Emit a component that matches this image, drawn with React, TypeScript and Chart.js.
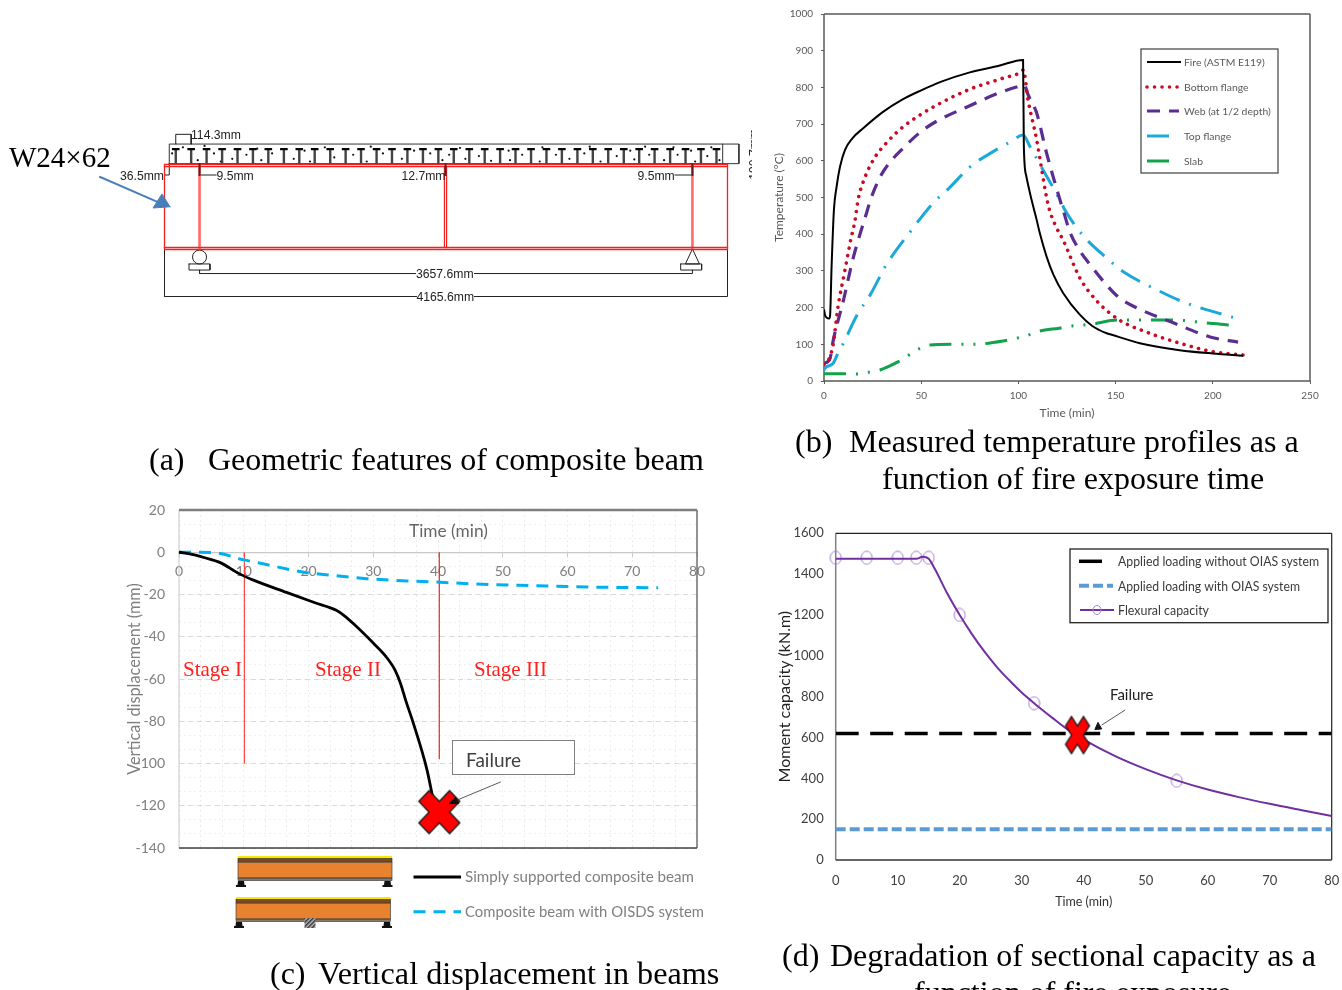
import React, { useEffect, useRef } from "react";
import { Chart, registerables } from "chart.js";

Chart.register(...registerables);
Chart.defaults.font.family = "Lato";
Chart.defaults.animation = false as any;

type Pt = number[];

/* ---------- (a) geometry, in millimetres ---------- */
const studPositions = [87, 201, 315, 430, 544, 658, 772, 887, 1001, 1115, 1230, 1344, 1458, 1573, 1687, 1801, 1916, 2030, 2144, 2259, 2373, 2487, 2601, 2716, 2830, 2944, 3059, 3173, 3287, 3402, 3516, 3630, 3745, 3859, 3973, 4088];
const speckles: Pt[] = [[60, 700], [140, 745], [250, 650], [300, 755], [370, 700], [420, 640], [505, 660], [610, 690], [690, 735], [720, 650], [800, 700], [960, 660], [1040, 720], [1080, 640], [1190, 745], [1260, 670], [1400, 690], [1500, 640], [1530, 750], [1620, 700], [1760, 660], [1850, 720], [1970, 700], [2060, 650], [2110, 690], [2190, 740], [2230, 660], [2330, 680], [2420, 645], [2550, 720], [2560, 650], [2650, 690], [2780, 640], [2800, 745], [2900, 690], [3000, 660], [3110, 700], [3150, 750], [3230, 640], [3350, 680], [3450, 720], [3480, 655], [3560, 750], [3590, 690], [3700, 650], [3770, 745], [3800, 690], [3900, 720], [3930, 640], [4020, 680], [4050, 745], [4110, 650]];
const slabLines: Pt[][] = [[[39, 624], [39, 769], [4254, 769], [4254, 624], [39, 624]], [[4134, 624], [4134, 769]]];
const dimensionLines: Pt[][] = [[[3.7, -11], [3.7, -359], [4169.5, -359], [4169.5, -11]], [[263, -163], [263, -189], [3910, -189], [3910, -163]], [[185, -118], [340, -118], [340, -163], [185, -163], [185, -118]], [[3823, -118], [3978, -118], [3978, -163], [3823, -163], [3823, -118]], [[3910, -7], [3858, -118], [3962, -118], [3910, -7]], [[87, 769], [87, 841], [201, 841], [201, 769]], [[0, 540], [39, 540], [39, 624]], [[263, 540], [385, 540]], [[3910, 540], [3781, 540]]];
const thickLeaders: Pt[][] = [[[263, 619], [263, 540]], [[2083, 619], [2083, 540]], [[3910, 619], [3910, 540]]];
const beamOutline: Pt[] = [[3.7, 618], [4169.5, 618], [4169.5, -11], [3.7, -11], [3.7, 618]];
const flangeLines: Pt[][] = [[[3.7, 603], [4169.5, 603]], [[3.7, 3.7], [4169.5, 3.7]]];
const midStiffener: Pt[][] = [[[2075, 603], [2075, 3.7]], [[2091, 603], [2091, 3.7]]];
const webStiffeners: Pt[][] = [[[263, 603], [263, 3.7]], [[3910, 603], [3910, 3.7]]];
const rollerCentre: Pt[] = [[263, -67]];
const beamArrow: Pt[] = [[-473, 525], [-30, 333]];
const beamArrowHead: Pt[] = [[44, 305], [-81, 296], [-15, 400], [44, 305]];

/* ---------- (b) temperature profiles ---------- */
const fireT = [0, 0.5, 1.5, 2.5, 3.1, 3.9, 5.1, 6.5, 8.2, 10.8, 14.7, 20, 30, 40, 50, 60, 75, 90, 102.4, 102.8, 104, 106.8, 109.4, 111, 114.5, 118, 123, 131.7, 138, 145.4, 148, 162.5, 183, 200, 215.6];
const fireTemp = [195, 180, 172, 170, 177, 311, 466, 530, 583, 630, 662, 688, 732, 766, 792, 815, 841, 859, 875, 640, 560, 493, 439, 403, 339, 290, 240, 180, 150, 130, 126, 103, 84, 75, 69];
const flangeT = [0, 3, 4.8, 7.2, 10.8, 13.4, 16, 17.5, 20, 25.3, 32.3, 40.8, 50, 58, 75, 92, 101.6, 102.5, 105, 109.4, 114.5, 116, 119.4, 123, 131.7, 140, 152, 166, 183, 200, 215.6];
const flangeTemp = [45, 65, 103, 202, 302, 376, 439, 493, 540, 602, 650, 693, 727, 752, 795, 825, 843, 848, 765, 657, 500, 466, 420, 384, 280, 220, 166, 133, 103, 80, 71];
const webT = [0, 3, 4.8, 10, 15, 22, 24, 28.8, 33, 40.8, 50, 58, 75, 90, 99, 103, 105, 109.4, 114.5, 121.4, 123, 126.5, 131, 137, 144, 151.4, 161, 180, 198.6, 213];
const webTemp = [48, 60, 112, 220, 335, 460, 495, 555, 590, 635, 680, 708, 750, 785, 801, 806, 780, 730, 621, 493, 466, 406, 360, 316, 270, 229, 199, 158, 120, 106];
const topT = [0, 0.5, 4.8, 7.2, 10, 17, 23.7, 32, 45, 56, 65, 75, 87, 96, 102.4, 106, 112.7, 121.4, 124, 133, 145.4, 155, 169.5, 185, 206, 212.6];
const topTemp = [30, 35, 49, 76, 103, 180, 234, 316, 411, 484, 529, 583, 625, 652, 670, 638, 575, 493, 465, 398, 335, 294, 253, 215, 180, 170];
const slabT = [0, 11, 17, 22.8, 28.8, 38, 43, 48.5, 54.5, 65, 76.7, 92, 105, 111, 121, 127.6, 138, 150.6, 168, 180, 197, 207, 213];
const slabTemp = [20, 20, 19, 24, 30, 52, 68, 87, 98, 100, 100, 109, 125, 136, 144, 150, 155, 166, 166, 166, 158, 153, 147];

/* ---------- (c) vertical displacement ---------- */
const simpleT = [0, 2, 4, 6.3, 9.2, 11.5, 16.6, 21, 24.3, 25.5, 27, 30, 32, 33.4, 34.2, 35, 36.2, 38.3, 39.5];
const simpleDisp = [0, -1, -2.6, -4.8, -10, -13.2, -19, -23.9, -27.5, -30, -34, -43, -49.5, -56, -62, -70, -81, -103, -121];
const oisdsT = [0, 5.3, 9.9, 13.5, 19.2, 23.8, 29, 36.2, 40.3, 48, 54.7, 64, 74];
const oisdsDisp = [0, -0.2, -3.5, -5.8, -9.4, -11, -12.5, -13.7, -14.2, -15.3, -15.8, -16.5, -16.8];
const stageOneLine: Pt[] = [[10.1, 0], [10.1, -100]];
const stageTwoLine: Pt[] = [[40.2, 0], [40.2, -98]];
const failureC: Pt[] = [[40.2, -123]];
const failureArrowC: Pt[] = [[49.7, -108.7], [43.2, -117]];
const failureHeadC: Pt[] = [[41.7, -119], [42.7, -116], [43.2, -119], [41.7, -119]];

/* ---------- (d) sectional capacity ---------- */
const capacityT = [0, 10, 13, 14, 15, 16, 18, 20, 22, 24, 26, 28, 30, 32, 35, 37.5, 40, 45, 50, 55, 60, 65, 70, 75, 80];
const capacity = [1475, 1475, 1475, 1485, 1475, 1425, 1305, 1200, 1105, 1020, 945, 880, 820, 768, 695, 637, 590, 510, 445, 390, 345, 308, 275, 245, 216];
const markerT = [0, 5, 10, 13, 15, 20, 32, 55];
const markerCapacity = [1480, 1480, 1480, 1480, 1480, 1200, 768, 388];
const loadT = [0, 80];
const loadWithout = [620, 620];
const loadWith = [150, 150];
const failureD: Pt[] = [[39, 612]];
const failureArrowD: Pt[] = [[46.7, 735], [42.9, 661]];
const failureHeadD: Pt[] = [[41.8, 639], [42.9, 642], [42.3, 674], [41.8, 639]];

const xy = (xs: number[], ys: number[]) => xs.map((x, i) => ({ x, y: ys[i] }));
const pts = (list: Pt[]) => list.map(([x, y]) => ({ x, y }));
const segs = (list: Pt[][]) => list.flatMap((s) => [...pts(s), { x: NaN, y: NaN }]);

const pin = (size: number) => (s: any) => {
  if (s.isHorizontal()) s.height = size;
  else s.width = size;
  s.paddingLeft = s.paddingRight = s.paddingTop = s.paddingBottom = 0;
};

const framePlugin = (sides: Record<string, [string, number]>) => ({
  id: "frame",
  beforeDatasetsDraw(chart: any) {
    const { left, right, top, bottom } = chart.chartArea;
    const ctx = chart.ctx;
    const line = (side: string, a: number, b: number, c: number, d: number) => {
      ctx.save();
      ctx.strokeStyle = sides[side][0];
      ctx.lineWidth = sides[side][1];
      ctx.beginPath();
      ctx.moveTo(a, b);
      ctx.lineTo(c, d);
      ctx.stroke();
      ctx.restore();
    };
    line("left", left, top, left, bottom);
    line("right", right, top, right, bottom);
    line("top", left, top, right, top);
    line("bottom", left, bottom, right, bottom);
  },
});

const legendPlugin = (cfg: any) => ({
  id: "panelLegend",
  afterDraw(chart: any) {
    const ctx = chart.ctx;
    const ox = cfg.origin[0];
    const oy = cfg.origin[1];
    ctx.save();
    if (cfg.box) {
      const [l, t, r, b] = cfg.box;
      ctx.fillStyle = "#fff";
      ctx.fillRect(l - ox, t - oy, r - l, b - t);
      ctx.strokeStyle = cfg.boxColor;
      ctx.lineWidth = cfg.boxWidth;
      ctx.strokeRect(l - ox, t - oy, r - l, b - t);
    }
    cfg.items.forEach((it: any) => {
      const ds = chart.data.datasets[it.dataset];
      ctx.save();
      ctx.strokeStyle = ds.borderColor;
      ctx.lineWidth = it.width ?? ds.borderWidth;
      ctx.setLineDash(ds.borderDash || []);
      ctx.lineCap = ds.borderCapStyle || "butt";
      ctx.beginPath();
      ctx.moveTo(it.x0 - ox, it.y - oy);
      ctx.lineTo(it.x1 - ox, it.y - oy);
      ctx.stroke();
      ctx.restore();
      if (it.ring) {
        ctx.save();
        ctx.strokeStyle = it.ring;
        ctx.lineWidth = 1;
        ctx.beginPath();
        ctx.ellipse((it.x0 + it.x1) / 2 - ox, it.y - oy, 4, 4.5, 0, 0, Math.PI * 2);
        ctx.stroke();
        ctx.restore();
      }
      ctx.fillStyle = cfg.color;
      ctx.font = cfg.font;
      ctx.textBaseline = "middle";
      ctx.fillText(ds.label, it.textX - ox, it.y - oy + 0.5, it.maxWidth);
    });
    ctx.restore();
  },
});

const makeCross = (w: number, h: number) => {
  const c = document.createElement("canvas");
  c.width = w + 4;
  c.height = h + 4;
  const g = c.getContext("2d")!;
  const shape = [[-1, -0.5], [-0.5, -1], [0, -0.5], [0.5, -1], [1, -0.5], [0.5, 0], [1, 0.5], [0.5, 1], [0, 0.5], [-0.5, 1], [-1, 0.5], [-0.5, 0]];
  g.beginPath();
  shape.forEach(([a, b], i) => {
    const px = c.width / 2 + (a * w) / 2;
    const py = c.height / 2 + (b * h) / 2;
    if (i) g.lineTo(px, py);
    else g.moveTo(px, py);
  });
  g.closePath();
  g.fillStyle = "#ff0000";
  g.fill();
  g.strokeStyle = "#1a1a1a";
  g.lineWidth = 1.3;
  g.stroke();
  return c;
};

const makeRing = (w: number, h: number, color: string) => {
  const c = document.createElement("canvas");
  c.width = w + 2;
  c.height = h + 2;
  const g = c.getContext("2d")!;
  g.strokeStyle = color;
  g.lineWidth = 1;
  g.beginPath();
  g.ellipse(c.width / 2, c.height / 2, w / 2, h / 2, 0, 0, Math.PI * 2);
  g.stroke();
  return c;
};

const base = { responsive: false, animation: false, events: [] as string[] };
const noPlugins = { legend: { display: false }, tooltip: { enabled: false }, title: { display: false } };
const plain = { useGrouping: false };

const configA = () => {
  const line = (label: string, data: any[], color: string, width: number) => ({ label, data, borderColor: color, backgroundColor: color, borderWidth: width, showLine: true, pointRadius: 0, borderCapStyle: "square" });
  return {
    type: "scatter",
    data: {
      datasets: [
        { ...line("arrow head", pts(beamArrowHead), "#4a7ebb", 1), fill: "shape" },
        line("arrow", pts(beamArrow), "#4a7ebb", 2),
        line("leaders", segs(thickLeaders), "#5a1f1f", 2),
        line("beam outline", pts(beamOutline), "#f52020", 1.3),
        line("flanges", segs(flangeLines), "#f52020", 1.3),
        line("middle stiffener", segs(midStiffener), "#f52020", 1.2),
        line("stiffeners", segs(webStiffeners), "#ff6a6a", 2.6),
        line("dimensions", segs(dimensionLines), "#222222", 1),
        line("stud heads", segs(studPositions.map((x) => [[x - 20, 732], [x + 20, 732]])), "#000000", 2.2),
        line("stud stems", segs(studPositions.map((x) => [[x, 624], [x, 730]])), "#444444", 2.4),
        line("slab", segs(slabLines), "#333333", 1),
        { label: "aggregate", data: pts(speckles), pointRadius: 1.1, backgroundColor: "#111", borderColor: "#111", borderWidth: 0 },
        { label: "roller", data: pts(rollerCentre), pointRadius: 7, pointBackgroundColor: "#fff", pointBorderColor: "#222", pointBorderWidth: 1 },
      ],
    },
    options: {
      ...base,
      plugins: noPlugins,
      layout: { padding: 0, autoPadding: false },
      scales: {
        x: { type: "linear", display: false, min: -1213.5, max: 4484 },
        y: { type: "linear", display: false, min: -458.7, max: 947 },
      },
    },
  };
};

const configB = () => {
  const s = (label: string, xs: number[], ys: number[], color: string, width: number, dash: number[], cap = "butt") => ({ label, data: xy(xs, ys), borderColor: color, borderWidth: width, borderDash: dash, borderCapStyle: cap, showLine: true, pointRadius: 0, cubicInterpolationMode: "monotone" });
  const tick = { font: { size: 10 }, color: "#595959", autoSkip: false, maxRotation: 0, format: plain };
  return {
    type: "scatter",
    data: {
      datasets: [
        s("Fire (ASTM E119)", fireT, fireTemp, "#000000", 2, []),
        s("Bottom flange", flangeT, flangeTemp, "#cc0a24", 3.6, [0.01, 7.5], "round"),
        s("Web (at 1/2 depth)", webT, webTemp, "#5a2d91", 3.2, [13, 9]),
        s("Top flange", topT, topTemp, "#1ba9d9", 3, [22, 10, 2, 10]),
        s("Slab", slabT, slabTemp, "#11a24b", 3, [22, 10, 2, 10, 2, 10]),
      ],
    },
    plugins: [
      framePlugin({ left: ["#595959", 1.5], right: ["#595959", 1.5], top: ["#595959", 1.5], bottom: ["#595959", 1.5] }),
      legendPlugin({
        origin: [770, 0],
        box: [1141, 49, 1278, 173],
        boxColor: "#404040",
        boxWidth: 1.2,
        color: "#595959",
        font: "10.4px Lato",
        items: [
          { dataset: 0, y: 62, x0: 1147, x1: 1181, textX: 1184 },
          { dataset: 1, y: 87, x0: 1147, x1: 1179, textX: 1184 },
          { dataset: 2, y: 111, x0: 1147, x1: 1179, textX: 1184 },
          { dataset: 3, y: 136, x0: 1147, x1: 1170, textX: 1184 },
          { dataset: 4, y: 161, x0: 1147, x1: 1170, textX: 1184 },
        ],
      }),
    ],
    options: {
      ...base,
      plugins: noPlugins,
      layout: { padding: { left: 0, top: 14, right: 32, bottom: 0 }, autoPadding: false },
      scales: {
        x: {
          type: "linear", min: 0, max: 250, afterFit: pin(49),
          ticks: { ...tick, stepSize: 50, padding: 6 },
          grid: { drawOnChartArea: false, tickLength: 3, color: "#595959" },
          border: { display: false },
          title: { display: true, text: "Time (min)", font: { size: 12 }, color: "#595959", padding: { top: 0, bottom: 10 } },
        },
        y: {
          type: "linear", min: 0, max: 1000, afterFit: pin(54),
          ticks: { ...tick, stepSize: 100, padding: 8 },
          grid: { drawOnChartArea: false, tickLength: 3, color: "#595959" },
          border: { display: false },
          title: { display: true, text: "Temperature (°C)", font: { size: 12 }, color: "#595959", padding: { top: 2, bottom: 0 } },
        },
      },
    },
  };
};

const configC = (cross: HTMLCanvasElement) => {
  const extra = (label: string, data: Pt[], color: string, width: number) => ({ label, data: pts(data), borderColor: color, backgroundColor: color, borderWidth: width, showLine: true, pointRadius: 0 });
  const tick = { font: { size: 14 }, color: "#7f7f7f", autoSkip: false, maxRotation: 0 };
  return {
    type: "scatter",
    data: {
      datasets: [
        { ...extra("head", failureHeadC, "#111111", 1), fill: "shape" },
        { label: "failure", data: pts(failureC), pointRadius: 5, pointStyle: cross, showLine: false },
        { label: "Simply supported composite beam", data: xy(simpleT, simpleDisp), borderColor: "#000000", borderWidth: 2.8, showLine: true, pointRadius: 0, cubicInterpolationMode: "monotone" },
        { label: "Composite beam with OISDS system", data: xy(oisdsT, oisdsDisp), borderColor: "#00b0f0", borderWidth: 3, borderDash: [12, 8], showLine: true, pointRadius: 0, cubicInterpolationMode: "monotone" },
        extra("arrow", failureArrowC, "#595959", 1),
        extra("stage I limit", stageOneLine, "#ff4a4a", 1.2),
        extra("stage II limit", stageTwoLine, "#ff2020", 1.2),
      ],
    },
    plugins: [
      framePlugin({ left: ["#c8c8c8", 1], right: ["#595959", 1.3], top: ["#7f7f7f", 2.5], bottom: ["#404040", 1.5] }),
      legendPlugin({
        origin: [120, 495],
        color: "#7f7f7f",
        font: "15.2px Lato",
        items: [
          { dataset: 2, y: 877, x0: 413.5, x1: 461, textX: 465, maxWidth: 229 },
          { dataset: 3, y: 911.7, x0: 413.5, x1: 461, textX: 465, maxWidth: 239 },
        ],
      }),
    ],
    options: {
      ...base,
      plugins: noPlugins,
      layout: { padding: { left: 0, top: 15, right: 23, bottom: 87 }, autoPadding: false },
      scales: {
        xm: {
          type: "linear", position: "bottom", min: 0, max: 80, afterFit: pin(0),
          ticks: { display: false, stepSize: 10 / 3, autoSkip: false },
          grid: { color: "#ececec", drawTicks: false, tickLength: 0 },
          border: { display: false, dash: [2, 3] },
        },
        ym: {
          type: "linear", position: "left", min: -140, max: 20, afterFit: pin(0),
          ticks: { display: false, stepSize: 20 / 3, autoSkip: false },
          grid: { color: "#f0f0f0", drawTicks: false, tickLength: 0 },
          border: { display: false, dash: [2, 3] },
        },
        x: {
          type: "linear", position: { y: 0 }, min: 0, max: 80,
          ticks: { ...tick, stepSize: 10, padding: 7 },
          grid: { drawOnChartArea: false, tickLength: 4, color: "#c8c8c8" },
          border: { display: true, color: "#c8c8c8", width: 1.2 },
        },
        y: {
          type: "linear", position: "left", min: -140, max: 20, afterFit: pin(59),
          ticks: { ...tick, stepSize: 20, padding: 14 },
          grid: { color: "#d9d9d9", drawTicks: false, tickLength: 0 },
          border: { display: false, dash: [5, 4] },
          title: { display: true, text: "Vertical displacement (mm)", font: { size: 16.3 }, color: "#7f7f7f", padding: { top: 5, bottom: 0 } },
        },
      },
    },
  };
};

const configD = (cross: HTMLCanvasElement, ring: HTMLCanvasElement) => {
  const extra = (label: string, data: Pt[], color: string, width: number) => ({ label, data: pts(data), borderColor: color, backgroundColor: color, borderWidth: width, showLine: true, pointRadius: 0 });
  const tick = { font: { size: 13 }, color: "#404040", autoSkip: false, maxRotation: 0, format: plain };
  return {
    type: "scatter",
    data: {
      datasets: [
        { ...extra("head", failureHeadD, "#111111", 1), fill: "shape" },
        { label: "failure", data: pts(failureD), pointRadius: 5, pointStyle: cross, showLine: false },
        extra("arrow", failureArrowD, "#595959", 1),
        { label: "Applied loading without OIAS system", data: xy(loadT, loadWithout), borderColor: "#000000", borderWidth: 3.5, borderDash: [23, 11.5], showLine: true, pointRadius: 0 },
        { label: "Applied loading with OIAS system", data: xy(loadT, loadWith), borderColor: "#5b9bd5", borderWidth: 4, borderDash: [10, 4], showLine: true, pointRadius: 0 },
        { label: "Flexural capacity", data: xy(capacityT, capacity), borderColor: "#7030a0", borderWidth: 2, showLine: true, pointRadius: 0, cubicInterpolationMode: "monotone" },
        { label: "capacity markers", data: xy(markerT, markerCapacity), pointRadius: 5, pointStyle: ring, showLine: false, clip: false },
      ],
    },
    plugins: [
      framePlugin({ left: ["#808080", 1.5], right: ["#222222", 1.2], top: ["#222222", 1.2], bottom: ["#333333", 1.5] }),
      legendPlugin({
        origin: [770, 520],
        box: [1070, 549, 1328, 622.7],
        boxColor: "#222222",
        boxWidth: 1.3,
        color: "#3a3a3a",
        font: "14px Lato",
        items: [
          { dataset: 3, y: 561.3, x0: 1079, x1: 1103, textX: 1118, maxWidth: 201 },
          { dataset: 4, y: 585.7, x0: 1079, x1: 1113, textX: 1118, maxWidth: 182 },
          { dataset: 5, y: 610, x0: 1080, x1: 1114, textX: 1118, maxWidth: 91, ring: "#a67fd0" },
        ],
      }),
    ],
    options: {
      ...base,
      plugins: noPlugins,
      layout: { padding: { left: 0, top: 13.3, right: 10.3, bottom: 0 }, autoPadding: false },
      scales: {
        x: {
          type: "linear", min: 0, max: 80, afterFit: pin(60),
          ticks: { ...tick, stepSize: 10, padding: 13 },
          grid: { display: false, drawOnChartArea: false, drawTicks: false },
          border: { display: false },
          title: { display: true, text: "Time (min)", font: { size: 12.5 }, color: "#333333", padding: { top: 0, bottom: 11 } },
        },
        y: {
          type: "linear", min: 0, max: 1600, afterFit: pin(65.7),
          ticks: { ...tick, stepSize: 200, padding: 12 },
          grid: { display: false, drawOnChartArea: false, drawTicks: false },
          border: { display: false },
          title: { display: true, text: "Moment capacity (kN.m)", font: { size: 16 }, color: "#222222", padding: { top: 5, bottom: 0 } },
        },
      },
    },
  };
};

const Label = ({ x, y, text, style }: { x: number; y: number; text: string; style?: React.CSSProperties }) => (
  <div style={{ position: "absolute", left: x, top: y, transform: "translateY(-50%)", whiteSpace: "nowrap", lineHeight: 1, ...style }}>{text}</div>
);

const serif: React.CSSProperties = { fontFamily: "'Liberation Serif'", fontSize: 32, color: "#000" };
const dim: React.CSSProperties = { fontFamily: "'Liberation Sans'", fontSize: 12.2, color: "#222" };
const stage: React.CSSProperties = { fontFamily: "'Liberation Serif'", fontSize: 21, color: "#ff2020" };

const BeamIcon = ({ l, r, y, sup }: { l: number; r: number; y: number; sup: number[] }) => (
  <g>
    <rect x={l} y={y} width={r - l} height={2.6} fill="#ffe600" />
    <rect x={l} y={y + 2.6} width={r - l} height={3.6} fill="#7a4a20" stroke="#222" strokeWidth={0.6} />
    <rect x={l} y={y + 6.2} width={r - l} height={15.8} fill="#e8822e" />
    <rect x={l} y={y + 22} width={r - l} height={2.6} fill="#8a7a6a" stroke="#222" strokeWidth={0.5} />
    <rect x={l} y={y + 6.2} width={r - l} height={15.8} fill="none" stroke="#444" strokeWidth={0.7} />
    {sup.map((c) => (
      <path key={c} d={`M${c - 3} ${y + 25}L${c + 3} ${y + 25}L${c + 3.5} ${y + 29}L${c + 5} ${y + 29}L${c + 5} ${y + 31}L${c - 5} ${y + 31}L${c - 5} ${y + 29}L${c - 3.5} ${y + 29}Z`} fill="#111" />
    ))}
  </g>
);

export default function App() {
  const a = useRef<HTMLCanvasElement>(null);
  const b = useRef<HTMLCanvasElement>(null);
  const c = useRef<HTMLCanvasElement>(null);
  const d = useRef<HTMLCanvasElement>(null);

  useEffect(() => {
    const charts = [
      new Chart(a.current!, configA() as any),
      new Chart(b.current!, configB() as any),
      new Chart(c.current!, configC(makeCross(41, 43)) as any),
      new Chart(d.current!, configD(makeCross(24, 37), makeRing(11, 13, "#a67fd0")) as any),
    ];
    return () => charts.forEach((ch) => ch.destroy());
  }, []);

  const abs = (left: number, top: number): React.CSSProperties => ({ position: "absolute", left, top, display: "block" });

  return (
    <div style={{ position: "absolute", left: 0, top: 0, width: 1342, height: 990, overflow: "hidden", background: "#fff" }}>
      <canvas ref={a} width={770} height={190} style={abs(0, 120)} />
      <canvas ref={b} width={572} height={430} style={abs(770, 0)} />
      <canvas ref={c} width={600} height={440} style={abs(120, 495)} />
      <canvas ref={d} width={572} height={400} style={abs(770, 520)} />

      <svg width={1342} height={990} style={{ position: "absolute", left: 0, top: 0, pointerEvents: "none" }}>
        <defs>
          <pattern id="hatch" width={3} height={3} patternUnits="userSpaceOnUse" patternTransform="rotate(45)">
            <rect width={3} height={3} fill="#bbb" />
            <rect width={1.5} height={3} fill="#333" />
          </pattern>
        </defs>
        <BeamIcon l={238} r={392} y={856} sup={[241, 387.5]} />
        <BeamIcon l={236} r={390.5} y={897} sup={[239, 387]} />
        <rect x={304.5} y={918} width={11} height={10} fill="url(#hatch)" />
      </svg>

      <Label x={9} y={157} text="W24×62" style={{ ...serif, fontSize: 29 }} />
      <Label x={191} y={135} text="114.3mm" style={dim} />
      <Label x={120} y={176} text="36.5mm" style={dim} />
      <Label x={216.5} y={176} text="9.5mm" style={dim} />
      <Label x={401.5} y={176} text="12.7mm" style={dim} />
      <Label x={637.5} y={176} text="9.5mm" style={dim} />
      <Label x={416} y={273.5} text="3657.6mm" style={{ ...dim, background: "#fff" }} />
      <Label x={416.5} y={296.5} text="4165.6mm" style={{ ...dim, background: "#fff" }} />
      <div style={{ position: "absolute", left: 748, top: 128, width: 4, height: 52, overflow: "hidden" }}>
        <div style={{ ...dim, writingMode: "vertical-rl", transform: "rotate(180deg)", position: "absolute", left: 0, bottom: 0, lineHeight: 1, whiteSpace: "nowrap" }}>190.7mm</div>
      </div>

      <Label x={409} y={531} text="Time (min)" style={{ fontFamily: "Lato", fontSize: 17.3, color: "#666" }} />
      <Label x={183} y={669} text="Stage I" style={stage} />
      <Label x={315} y={669} text="Stage II" style={stage} />
      <Label x={474} y={669} text="Stage III" style={stage} />
      <div style={{ position: "absolute", left: 452, top: 740, width: 123, height: 35, boxSizing: "border-box", border: "1.5px solid #7f7f7f", background: "#fff" }} />
      <Label x={466} y={758.5} text="Failure" style={{ fontFamily: "Lato", fontSize: 19, color: "#404040" }} />
      <Label x={1110} y={694} text="Failure" style={{ fontFamily: "Lato", fontSize: 15, color: "#222" }} />

      <Label x={149} y={459} text="(a)" style={serif} />
      <Label x={208} y={459} text="Geometric features of composite beam" style={serif} />
      <Label x={795} y={441} text="(b)" style={serif} />
      <Label x={849} y={441} text="Measured temperature profiles as a" style={serif} />
      <Label x={882} y={478} text="function of fire exposure time" style={serif} />
      <Label x={270} y={973} text="(c)" style={serif} />
      <Label x={318} y={973} text="Vertical displacement in beams" style={{ ...serif, fontSize: 32.2 }} />
      <Label x={782} y={955} text="(d)" style={serif} />
      <Label x={830} y={955} text="Degradation of sectional capacity as a" style={serif} />
      <Label x={914} y={992} text="function of fire exposure" style={serif} />
    </div>
  );
}
